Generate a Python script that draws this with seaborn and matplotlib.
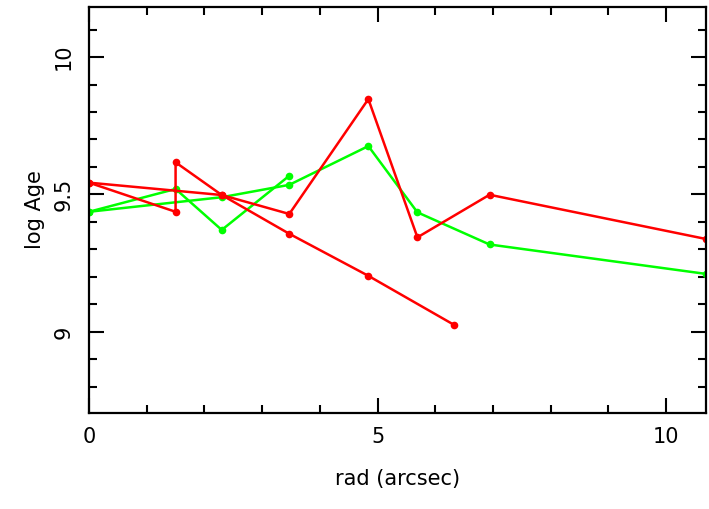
import numpy as np
import pandas as pd
import matplotlib
matplotlib.use("Agg")
import matplotlib.pyplot as plt
import seaborn as sns
from matplotlib.ticker import MultipleLocator

# Red series A
red_a_rad = [0.0, 1.50, 1.50, 2.30, 3.47, 4.84, 6.33]
red_a_age = [9.543, 9.437, 9.617, 9.498, 9.357, 9.204, 9.025]
# Red series B
red_b_rad = [0.0, 2.30, 3.47, 4.84, 5.69, 6.94, 10.69]
red_b_age = [9.543, 9.498, 9.429, 9.847, 9.344, 9.499, 9.338]
# Green series A
green_a_rad = [0.0, 1.50, 2.30, 3.47]
green_a_age = [9.437, 9.520, 9.371, 9.568]
# Green series B
green_b_rad = [0.0, 2.30, 3.47, 4.84, 5.69, 6.94, 10.69]
green_b_age = [9.437, 9.490, 9.535, 9.676, 9.435, 9.318, 9.211]

x_ticks = [0, 5, 10]
x_tick_labels = ["0", "5", "10"]
y_ticks = [9, 9.5, 10]
y_tick_labels = ["9", "9.5", "10"]

series = [
    ("redA", "red", red_a_rad, red_a_age),
    ("redB", "red", red_b_rad, red_b_age),
    ("greenA", "green", green_a_rad, green_a_age),
    ("greenB", "green", green_b_rad, green_b_age),
]
rows = []
for name, col, xs, ys in series:
    for i, (x, y) in enumerate(zip(xs, ys)):
        rows.append({"series": name, "color": col, "rad": x, "logage": y, "order": i})
df = pd.DataFrame(rows)

sns.set_style("ticks")
plt.rcParams["font.family"] = ["DejaVu Sans"]
plt.rcParams["text.color"] = "black"
plt.rcParams["axes.labelcolor"] = "black"
plt.rcParams["xtick.color"] = "black"
plt.rcParams["ytick.color"] = "black"

fig = plt.figure(figsize=(7.09, 5.09), dpi=100)
ax = fig.add_axes([89/709, 1-413/509, (706-89)/709, (413-7)/509])

palette = {"red": "#ff0000", "green": "#00ff00"}
# draw green first, then red on top
for name in ["greenA", "greenB", "redA", "redB"]:
    sub = df[df["series"] == name]
    col = sub["color"].iloc[0]
    sns.lineplot(data=sub, x="rad", y="logage", sort=False, estimator=None,
                 color=palette[col], marker="o", markersize=5.5, markeredgewidth=0,
                 linewidth=1.8, ax=ax, legend=False)

ax.set_xlim(0, 10.69)
ax.set_ylim(8.705, 10.182)
ax.set_xticks(x_ticks)
ax.set_xticklabels(x_tick_labels)
ax.set_yticks(y_ticks)
ax.set_yticklabels(y_tick_labels, rotation=90, va="center")
ax.xaxis.set_minor_locator(MultipleLocator(1))
ax.yaxis.set_minor_locator(MultipleLocator(0.1))

ax.tick_params(which="both", direction="in", top=True, right=True, color="black",
               width=1.5, labelsize=15, labelcolor="black")
ax.tick_params(axis="x", which="major", pad=10)
ax.tick_params(axis="y", which="major", pad=11)
ax.tick_params(which="major", length=11)
ax.tick_params(which="minor", length=6)
for s in ax.spines.values():
    s.set_linewidth(1.6)
    s.set_color("black")

ax.set_xlabel("rad (arcsec)", fontsize=15, labelpad=16, color="black")
ax.set_ylabel("log Age", fontsize=15, labelpad=6, color="black")

fig.savefig("out.png", dpi=100)
